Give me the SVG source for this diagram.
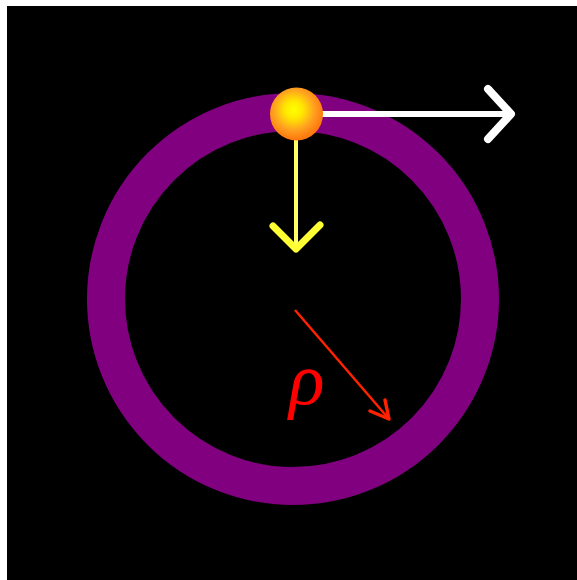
<svg xmlns="http://www.w3.org/2000/svg" width="577" height="580" viewBox="0 0 577 580">
<defs>
<radialGradient id="ballG" cx="0.45" cy="0.42" r="0.55">
<stop offset="0" stop-color="#ffff00"/>
<stop offset="0.3" stop-color="#ffe800"/>
<stop offset="0.7" stop-color="#ffa020"/>
<stop offset="1" stop-color="#ff7a10"/>
</radialGradient>
<style>
.chev{fill:none;stroke-linecap:round;stroke-linejoin:round}
</style>
</defs>
<rect x="0" y="0" width="577" height="580" fill="#ffffff"/>
<rect x="7" y="6" width="570" height="574" fill="#000000"/>
<g id="ring">
<circle cx="293" cy="299" r="187" fill="none" stroke="#800080" stroke-width="38"/>
</g>
<g id="connectors">
<line x1="300" y1="114" x2="511" y2="114" stroke="#ffffff" stroke-width="6"/>
<polyline class="chev" points="488,89 511,114 488,139" stroke="#ffffff" stroke-width="8"/>
<line x1="296" y1="138" x2="296" y2="248" stroke="#ffff66" stroke-width="4"/>
<polyline class="chev" points="273,226 296,249 320,225" stroke="#ffff33" stroke-width="7"/>
<line x1="295" y1="310" x2="389" y2="419" stroke="#ff2200" stroke-width="2.5"/>
<polyline class="chev" points="370,411 389,419 385,400" stroke="#ff2200" stroke-width="3.5"/>
</g>
<g id="ball">
<circle cx="296.5" cy="114" r="26.5" fill="url(#ballG)"/>
</g>
<g id="label">
<text x="289" y="404" font-family="Liberation Serif, 'DejaVu Serif', serif" font-style="italic" font-size="74" fill="#ff0000">ρ</text>
</g>
</svg>
